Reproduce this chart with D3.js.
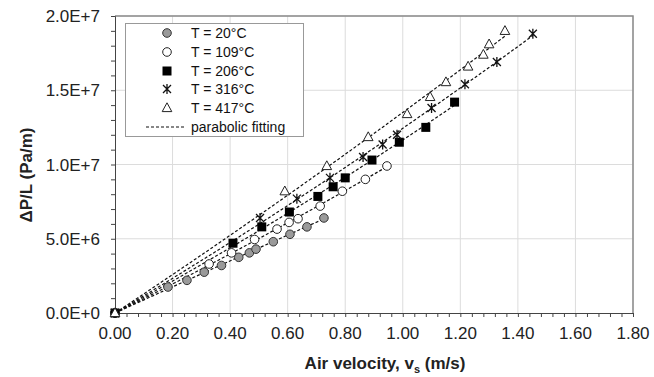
<!DOCTYPE html>
<html><head><meta charset="utf-8">
<script src="https://cdn.jsdelivr.net/npm/d3@7"></script>
<style>body{margin:0;background:#fff}svg{display:block;font-family:"Liberation Sans",Arial,sans-serif}</style>
</head><body><svg id="c" width="654" height="377"></svg>
<script>
// ---- data (velocity m/s, pressure drop Pa/m) ----
const seriesNames = ["T = 20°C","T = 109°C","T = 206°C","T = 316°C","T = 417°C"];
const v20  = [0,0.184,0.25,0.31,0.37,0.43,0.467,0.49,0.55,0.608,0.667,0.726];
const p20  = [0,1.75e6,2.2e6,2.75e6,3.2e6,3.75e6,4.05e6,4.3e6,4.8e6,5.3e6,5.8e6,6.4e6];
const v109 = [0,0.327,0.405,0.485,0.563,0.605,0.636,0.713,0.79,0.87,0.945];
const p109 = [0,3.3e6,4.05e6,4.95e6,5.65e6,6.1e6,6.35e6,7.2e6,8.2e6,9.0e6,9.9e6];
const v206 = [0,0.41,0.51,0.606,0.705,0.758,0.80,0.893,0.988,1.08,1.18];
const p206 = [0,4.7e6,5.8e6,6.8e6,7.85e6,8.5e6,9.1e6,10.3e6,11.5e6,12.5e6,14.2e6];
const v316 = [0,0.504,0.632,0.747,0.862,0.93,0.98,1.10,1.216,1.327,1.452];
const p316 = [0,6.4e6,7.7e6,9.1e6,10.5e6,11.35e6,12.0e6,13.8e6,15.4e6,16.9e6,18.8e6];
const v417 = [0,0.59,0.736,0.88,1.015,1.095,1.15,1.227,1.28,1.30,1.355];
const p417 = [0,8.2e6,9.9e6,11.85e6,13.4e6,14.55e6,15.55e6,16.6e6,17.4e6,18.1e6,19.0e6];
const xTickValues = [0,0.2,0.4,0.6,0.8,1.0,1.2,1.4,1.6,1.8];
const yTickValues = [0,5e6,1e7,1.5e7,2e7];
const yTickLabels = ["0.0E+0","5.0E+6","1.0E+7","1.5E+7","2.0E+7"];
const xTitle = "Air velocity, v";
const yTitle = "ΔP/L (Pa/m)";
const fitLabel = "parabolic fitting";

const series = [
  {name:seriesNames[0], v:v20,  p:p20,  sym:"gcircle"},
  {name:seriesNames[1], v:v109, p:p109, sym:"ocircle"},
  {name:seriesNames[2], v:v206, p:p206, sym:"square"},
  {name:seriesNames[3], v:v316, p:p316, sym:"star"},
  {name:seriesNames[4], v:v417, p:p417, sym:"tri"}
];

const svg = d3.select("#c");
const L=115, R=633, T=16, B=313;
const x = d3.scaleLinear().domain([0,1.8]).range([L,R]);
const y = d3.scaleLinear().domain([0,2e7]).range([B,T]);

// grid
const g = svg.append("g");
g.selectAll(".gx").data(xTickValues.slice(1)).join("line")
  .attr("x1",d=>x(d)).attr("x2",d=>x(d)).attr("y1",T).attr("y2",B)
  .attr("stroke","#dcdcdc").attr("stroke-width",1);
g.selectAll(".gy").data(yTickValues.slice(1)).join("line")
  .attr("x1",L).attr("x2",R).attr("y1",d=>y(d)).attr("y2",d=>y(d))
  .attr("stroke","#dcdcdc").attr("stroke-width",1);
// top/right border
svg.append("path").attr("d",`M${L},${T}H${R}V${B}`).attr("fill","none").attr("stroke","#8a8a8a").attr("stroke-width",1.5);

// axes
const xMinor = d3.range(0,1.8001,0.04);
const yMinor = d3.range(0,2.0001e7,1e6);
const xAxis = svg.append("g").attr("transform",`translate(0,${B})`)
  .call(d3.axisBottom(x).tickValues(xMinor).tickSize(4).tickFormat(""));
const yAxis = svg.append("g").attr("transform",`translate(${L},0)`)
  .call(d3.axisLeft(y).tickValues(yMinor).tickSize(4).tickFormat(""));
[xAxis,yAxis].forEach(a=>{a.selectAll("path").attr("stroke","#444");a.selectAll("line").attr("stroke","#444");});

svg.append("g").selectAll("text").data(xTickValues).join("text")
  .attr("x",d=>x(d)).attr("y",339).attr("text-anchor","middle")
  .attr("font-size",17).attr("fill","#222").text(d=>d.toFixed(2));
svg.append("g").selectAll("text").data(yTickValues).join("text")
  .attr("x",100).attr("y",d=>y(d)+6).attr("text-anchor","end")
  .attr("font-size",17).attr("fill","#222").text((d,i)=>yTickLabels[i]);

// titles
const xt = svg.append("text").attr("x",385).attr("y",369).attr("text-anchor","middle")
  .attr("font-size",17).attr("font-weight","bold").attr("fill","#222");
xt.append("tspan").text(xTitle);
xt.append("tspan").attr("font-size",11).attr("dy",4).text("s");
xt.append("tspan").attr("dy",-4).text(" (m/s)");
svg.append("text").attr("transform","translate(32,175) rotate(-90)").attr("text-anchor","middle")
  .attr("font-size",17).attr("font-weight","bold").attr("fill","#222").text(yTitle);

// parabolic fit through origin: p = a v + b v^2
function fit(vs,ps){
  let s2=0,s3=0,s4=0,sy1=0,sy2=0;
  vs.forEach((v,i)=>{const p=ps[i];s2+=v*v;s3+=v*v*v;s4+=v*v*v*v;sy1+=v*p;sy2+=v*v*p;});
  const det=s2*s4-s3*s3;
  return {a:(sy1*s4-sy2*s3)/det, b:(s2*sy2-s3*sy1)/det};
}
const line = d3.line().x(d=>x(d[0])).y(d=>y(d[1]));
series.forEach(s=>{
  const f=fit(s.v,s.p);
  const vmax=d3.max(s.v);
  const pts=d3.range(0,vmax+1e-9,vmax/60).map(v=>[v,f.a*v+f.b*v*v]);
  svg.append("path").attr("d",line(pts)).attr("fill","none")
    .attr("stroke","#111").attr("stroke-width",1.2).attr("stroke-dasharray","3,2");
});

function drawSym(sel,sym,cx,cy){
  if(sym==="gcircle") sel.append("circle").attr("cx",cx).attr("cy",cy).attr("r",4.3)
      .attr("fill","#9a9a9a").attr("stroke","#333").attr("stroke-width",1);
  else if(sym==="ocircle") sel.append("circle").attr("cx",cx).attr("cy",cy).attr("r",4.3)
      .attr("fill","#fff").attr("stroke","#222").attr("stroke-width",1);
  else if(sym==="square") sel.append("rect").attr("x",cx-4.5).attr("y",cy-4.5).attr("width",9).attr("height",9)
      .attr("fill","#000");
  else if(sym==="star") sel.append("path")
      .attr("d",`M${cx-4},${cy-4}L${cx+4},${cy+4}M${cx-4},${cy+4}L${cx+4},${cy-4}M${cx},${cy-5}V${cy+5}`)
      .attr("stroke","#111").attr("stroke-width",1.3).attr("fill","none");
  else if(sym==="tri") sel.append("path")
      .attr("d",`M${cx},${cy-5.2}L${cx+4.8},${cy+3.6}L${cx-4.8},${cy+3.6}Z`)
      .attr("fill","#fff").attr("stroke","#222").attr("stroke-width",1);
}
series.forEach(s=>{
  const gg=svg.append("g");
  s.v.forEach((v,i)=>drawSym(gg,s.sym,x(v),y(s.p[i])));
});

// legend
const lg = svg.append("g");
lg.append("rect").attr("x",125.5).attr("y",23.5).attr("width",178).attr("height",113)
  .attr("fill","#fff").attr("stroke","#999").attr("stroke-width",1);
const rowY=[33,52,71,89,108];
series.forEach((s,i)=>{
  drawSym(lg,s.sym,167,rowY[i]);
  lg.append("text").attr("x",191).attr("y",rowY[i]+5).attr("font-size",14).attr("fill","#111").text(s.name);
});
lg.append("line").attr("x1",146).attr("x2",186).attr("y1",127).attr("y2",127)
  .attr("stroke","#111").attr("stroke-width",1.1).attr("stroke-dasharray","3,2");
lg.append("text").attr("x",191).attr("y",132).attr("font-size",14).attr("fill","#111").text(fitLabel);
</script></body></html>
